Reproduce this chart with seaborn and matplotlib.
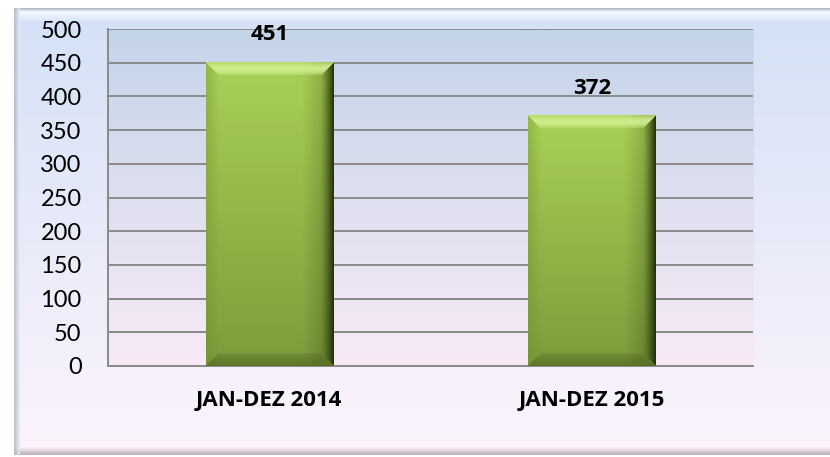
import numpy as np
import pandas as pd
import matplotlib
matplotlib.use("Agg")
import matplotlib.pyplot as plt
import seaborn as sns
from matplotlib.colors import to_rgb

# ---- data -------------------------------------------------------------
periods = ["JAN-DEZ 2014", "JAN-DEZ 2015"]
totals = [451, 372]
y_ticks = [0, 50, 100, 150, 200, 250, 300, 350, 400, 450, 500]

sns.set_theme(style="white")
plt.rcParams["font.family"] = ["Lato", "DejaVu Sans"]
BOLD_FAMILY = ["Open Sans", "DejaVu Sans"]

W, H, DPI = 830, 457, 100
fig = plt.figure(figsize=(W / DPI, H / DPI), dpi=DPI)
fig.patch.set_facecolor("white")


def vgrad(top, bottom, n=256):
    t = np.linspace(0, 1, n)[:, None, None]
    a = np.array(to_rgb(top))[None, None, :]
    b = np.array(to_rgb(bottom))[None, None, :]
    return a * (1 - t) + b * t


# ---- chart frame (pixel coordinates) ----------------------------------
bg = fig.add_axes([0, 0, 1, 1], zorder=-10)
bg.set_xlim(0, W)
bg.set_ylim(H, 0)
bg.axis("off")
fl, fr, ft, fb = 14, 834, 8, 455
bg.imshow(vgrad("#d3e1f6", "#fdf4fd"), extent=(fl, fr, fb, ft),
          aspect="auto", interpolation="bilinear", zorder=0)
# bevelled edges of the frame
bg.imshow(vgrad("#a9b6c8", "#f6f9fe", 8), extent=(fl, fr, ft + 4, ft),
          aspect="auto", interpolation="bilinear", zorder=1)
bg.imshow(vgrad("#f6f9fe", "#d6e3f7", 16), extent=(fl, fr, ft + 14, ft + 4),
          aspect="auto", interpolation="bilinear", zorder=1)
bg.imshow(vgrad("#fbf2fb", "#b9b0ba", 16), extent=(fl, fr, fb, fb - 8),
          aspect="auto", interpolation="bilinear", zorder=1)
side = np.linspace(0, 1, 16)[None, :, None]
left_strip = (np.array(to_rgb("#aab3c2")) * (1 - side)
              + np.array(to_rgb("#e8eef8")) * side)
bg.imshow(left_strip, extent=(fl, fl + 6, fb, ft), aspect="auto",
          interpolation="bilinear", zorder=2, alpha=0.8)

# ---- plot area ---------------------------------------------------------
ax = fig.add_axes([108 / W, (H - 366) / H, 645 / W, 337 / H])
df = pd.DataFrame({"period": periods, "total": totals})
sns.barplot(data=df, x="period", y="total", ax=ax, width=0.394,
            color="#9cc44a", saturation=1, edgecolor="none", zorder=3)

ax.set_facecolor("none")
ax.imshow(vgrad("#c4d4e9", "#f8eaf6"), extent=(0, 1, 0, 1),
          transform=ax.transAxes, aspect="auto", interpolation="bilinear",
          zorder=0)
ax.set_xlim(-0.5, 1.5)
ax.set_ylim(0, 500)
ax.set_yticks(y_ticks)
ax.yaxis.grid(True, color="#8a8a8a", lw=1.4, zorder=1)
ax.xaxis.grid(False)
ax.set_axisbelow(True)
for s in ("top", "right"):
    ax.spines[s].set_visible(False)
for s in ("left", "bottom"):
    ax.spines[s].set_color("#8a8a8a")
    ax.spines[s].set_linewidth(1.4)
ax.set_xlabel("")
ax.set_ylabel("")
ax.tick_params(axis="y", length=0, pad=19, labelsize=17, labelcolor="black")
ax.tick_params(axis="x", length=0, pad=17, labelsize=16, labelcolor="black")
for lab in ax.get_xticklabels():
    lab.set_fontweight("bold")
    lab.set_family(BOLD_FAMILY)

# ---- bevelled green bars ----------------------------------------------
fig.canvas.draw()
face_top = np.array(to_rgb("#a9d156"))
face_bot = np.array(to_rgb("#7c9c3b"))
light = np.array(to_rgb("#d0f090"))
dark = np.array(to_rgb("#222d0a"))
left_dark = np.array(to_rgb("#6a8a2c"))
bot_dark = np.array(to_rgb("#4e6620"))
bev = 13.0

for patch in list(ax.patches):
    x0, w = patch.get_x(), patch.get_width()
    h = patch.get_height()
    p0 = ax.transData.transform((x0, 0))
    p1 = ax.transData.transform((x0 + w, h))
    nw = int(round(p1[0] - p0[0]))
    nh = int(round(p1[1] - p0[1]))
    ii, jj = np.mgrid[0:nh, 0:nw].astype(float)
    t = (ii / max(nh - 1, 1))[..., None]
    img = face_top * (1 - t) + face_bot * t
    d_top, d_bot = ii, nh - 1 - ii
    d_left, d_right = jj, nw - 1 - jj
    dmin = np.minimum(np.minimum(d_top, d_bot), np.minimum(d_left, d_right))
    # soft darkening of the face towards the right edge
    r = np.clip(1 - (d_right - bev) / 18, 0, 1)[..., None]
    img = img * (1 - 0.18 * r) + dark * 0.18 * r
    inside = dmin < bev
    f = (dmin / bev)
    top_m = inside & (d_top == dmin)
    bot_m = inside & (d_bot == dmin) & ~top_m
    right_m = inside & (d_right == dmin) & ~top_m & ~bot_m
    left_m = inside & (d_left == dmin) & ~top_m & ~bot_m & ~right_m
    prof = 0.35 + 0.65 * np.sin(np.pi * np.clip(f, 0, 1)) - 0.2 * f
    k = np.clip(prof, 0, 1)[..., None]
    img = np.where(top_m[..., None], img * (1 - k) + light * k, img)
    g = (0.95 * (1 - f) ** 1.3)[..., None]
    img = np.where(right_m[..., None], img * (1 - g) + dark * g, img)
    gl = (0.35 * (1 - f))[..., None]
    img = np.where(left_m[..., None], img * (1 - gl) + left_dark * gl, img)
    gb = (0.25 + 0.45 * (1 - f))[..., None]
    img = np.where(bot_m[..., None], img * (1 - gb) + bot_dark * gb, img)
    ax.imshow(np.clip(img, 0, 1), extent=(x0, x0 + w, 0, h), aspect="auto",
              interpolation="bilinear", zorder=3.5)
    patch.set_alpha(0)

ax.set_xlim(-0.5, 1.5)
ax.set_ylim(0, 500)

# value labels above the bars
for i, v in enumerate(totals):
    ax.annotate(f"{v}", xy=(i, v), xytext=(0, 19.5), textcoords="offset points",
                ha="center", va="center", fontsize=16, fontweight="bold",
                family=BOLD_FAMILY, color="black", zorder=5)

fig.savefig("out.png", dpi=DPI)
